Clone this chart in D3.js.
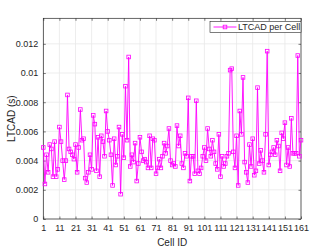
<!DOCTYPE html>
<html>
<head>
<meta charset="utf-8">
<script src="https://cdn.jsdelivr.net/npm/d3@7"></script>
<style>
  body { margin: 0; background: #fff; }
  svg text { font-family: "Liberation Sans", Arial, Helvetica, sans-serif; fill: #262626; }
</style>
</head>
<body>
<svg width="332" height="249"></svg>
<script>
(function() {

// LTCAD value per cell (cells 1..161)
var ltcad = [
  0.0049, 0.0024, 0.0044, 0.0032, 0.0051, 0.0048, 0.0029, 0.0053, 0.0029, 0.0034,
  0.0063, 0.0053, 0.0040, 0.0027, 0.0040, 0.0085, 0.0048, 0.0046, 0.0044, 0.0041,
  0.0051, 0.0032, 0.0049, 0.0075, 0.0054, 0.0055, 0.0028, 0.0025, 0.0032, 0.0044,
  0.0034, 0.0071, 0.0065, 0.0033, 0.0056, 0.0029, 0.0057, 0.0053, 0.0043, 0.0074,
  0.0060, 0.0054, 0.0044, 0.0023, 0.0055, 0.0037, 0.0043, 0.0063, 0.0017, 0.0058,
  0.0042, 0.0091, 0.0054, 0.0111, 0.0036, 0.0044, 0.0039, 0.0052, 0.0026, 0.0038,
  0.0056, 0.0046, 0.0040, 0.0041, 0.0039, 0.0035, 0.0057, 0.0035, 0.0055, 0.0054,
  0.0031, 0.0035, 0.0041, 0.0035, 0.0043, 0.0052, 0.0045, 0.0050, 0.0062, 0.0040,
  0.0037, 0.0038, 0.0036, 0.0064, 0.0050, 0.0057, 0.0038, 0.0035, 0.0045, 0.0043,
  0.0083, 0.0026, 0.0043, 0.0043, 0.0031, 0.0081, 0.0033, 0.0031, 0.0035, 0.0043,
  0.0049, 0.0040, 0.0062, 0.0048, 0.0043, 0.0054, 0.0046, 0.0038, 0.0034, 0.0058,
  0.0029, 0.0043, 0.0036, 0.0038, 0.0043, 0.0045, 0.0102, 0.0103, 0.0046, 0.0035,
  0.0057, 0.0023, 0.0074, 0.0058, 0.0097, 0.0039, 0.0032, 0.0025, 0.0051, 0.0036,
  0.0055, 0.0030, 0.0033, 0.0090, 0.0038, 0.0047, 0.0040, 0.0032, 0.0058, 0.0115,
  0.0037, 0.0044, 0.0046, 0.0049, 0.0044, 0.0054, 0.0050, 0.0033, 0.0059, 0.0055,
  0.0066, 0.0037, 0.0049, 0.0036, 0.0069, 0.0045, 0.0045, 0.0045, 0.0112, 0.0043,
  0.0054
];
var cellIds = ltcad.map(function(d, i) { return i + 1; });

var xTicks = d3.range(1, 162, 10);          // 1, 11, ... 161
var yTicks = [0, 0.002, 0.004, 0.006, 0.008, 0.010, 0.012];
var yTickLabels = ["0", "0.002", "0.004", "0.006", "0.008", "0.01", "0.012"];
var seriesName = "LTCAD per Cell";
var lineColor = "#ff00ff";

var svg = d3.select("svg"),
    margin = {top: 18.3, right: 31, bottom: 30, left: 43.3},
    width = 332 - margin.left - margin.right,
    height = 249 - margin.top - margin.bottom;

var x = d3.scaleLinear().domain([1, 161]).range([0, width]);
var y = d3.scaleLinear().domain([0, 0.01375]).range([height, 0]);

var g = svg.append("g").attr("transform", "translate(" + margin.left + "," + margin.top + ")");

// grid
g.append("g").selectAll("line").data(xTicks).enter().append("line")
    .attr("x1", function(d) { return x(d); }).attr("x2", function(d) { return x(d); })
    .attr("y1", 0).attr("y2", height)
    .attr("stroke", "#e8e8e8").attr("stroke-width", 0.8);
g.append("g").selectAll("line").data(yTicks).enter().append("line")
    .attr("x1", 0).attr("x2", width)
    .attr("y1", function(d) { return y(d); }).attr("y2", function(d) { return y(d); })
    .attr("stroke", "#e8e8e8").attr("stroke-width", 0.8);

// axes (ticks inside like matlab)
var xAxis = d3.axisBottom(x).tickValues(xTicks).tickSizeInner(-2.5).tickSizeOuter(0).tickPadding(6);
var yAxis = d3.axisLeft(y).tickValues(yTicks).tickSizeInner(-2.5).tickSizeOuter(0).tickPadding(5)
    .tickFormat(function(d, i) { return yTickLabels[i]; });

var gx = g.append("g").attr("transform", "translate(0," + height + ")").call(xAxis);
var gy = g.append("g").call(yAxis);
var gxTop = g.append("g").call(d3.axisTop(x).tickValues(xTicks).tickSizeInner(-2.5).tickSizeOuter(0).tickFormat(""));
var gyRight = g.append("g").attr("transform", "translate(" + width + ",0)")
    .call(d3.axisRight(y).tickValues(yTicks).tickSizeInner(-2.5).tickSizeOuter(0).tickFormat(""));

[gx, gy, gxTop, gyRight].forEach(function(a) {
    a.select(".domain").remove();
    a.selectAll("line").attr("stroke", "#262626").attr("stroke-width", 0.6);
    a.selectAll("text").attr("font-size", 9).attr("fill", "#262626")
        .attr("font-family", "Liberation Sans, Arial, sans-serif");
});

g.append("rect")
    .attr("width", width).attr("height", height)
    .attr("fill", "none").attr("stroke", "#262626").attr("stroke-width", 0.7);

// series
var line = d3.line()
    .x(function(d, i) { return x(cellIds[i]); })
    .y(function(d) { return y(d); });

g.append("path").datum(ltcad)
    .attr("fill", "none")
    .attr("stroke", lineColor)
    .attr("stroke-width", 0.9)
    .attr("d", line);

var ms = 3.6;
g.append("g").selectAll("rect").data(ltcad).enter().append("rect")
    .attr("x", function(d, i) { return x(cellIds[i]) - ms / 2; })
    .attr("y", function(d) { return y(d) - ms / 2; })
    .attr("width", ms).attr("height", ms)
    .attr("fill", "none")
    .attr("stroke", lineColor)
    .attr("stroke-width", 0.8);

// axis labels
svg.append("text")
    .attr("x", margin.left + width / 2).attr("y", 246)
    .attr("text-anchor", "middle").attr("font-size", 10)
    .text("Cell ID");

svg.append("text")
    .attr("transform", "translate(15," + (margin.top + height / 2) + ") rotate(-90)")
    .attr("text-anchor", "middle").attr("font-size", 10)
    .text("LTCAD (s)");

// legend
var lg = svg.append("g").attr("transform", "translate(210,21.5)");
lg.append("rect").attr("width", 91).attr("height", 11)
    .attr("fill", "#fff").attr("stroke", "#262626").attr("stroke-width", 0.6);
lg.append("line").attr("x1", 3.5).attr("x2", 26.5).attr("y1", 5.5).attr("y2", 5.5)
    .attr("stroke", lineColor).attr("stroke-width", 0.9);
lg.append("rect").attr("x", 15 - ms / 2).attr("y", 5.5 - ms / 2).attr("width", ms).attr("height", ms)
    .attr("fill", "none").attr("stroke", lineColor).attr("stroke-width", 0.8);
lg.append("text").attr("x", 28).attr("y", 8.7).attr("font-size", 9).text(seriesName);

})();
</script>
</body>
</html>
